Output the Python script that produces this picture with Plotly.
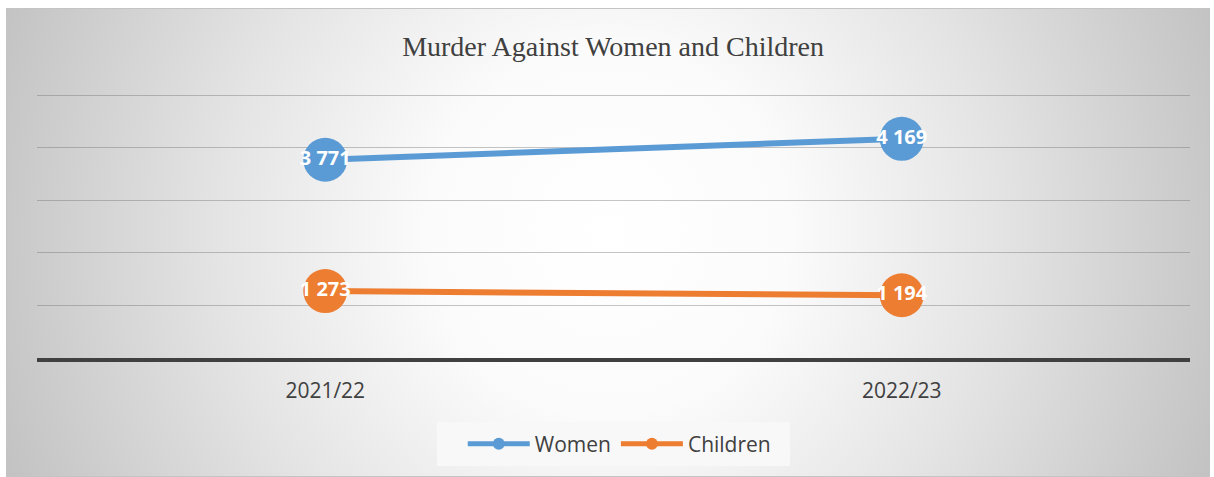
import base64
import plotly.graph_objects as go

# Data
periods = ["2021/22", "2022/23"]
women = [3771, 4169]
children = [1273, 1194]

W, H = 1214, 477
L, R, T, B = 37, 24, 93, 119
PW, PH = W - L - R, H - T - B
Y_MAX = 5040


def fmt(v):
    return f"{v:,}".replace(",", " ")


# Chart-area background: radial grey gradient with a thin border
box_x0, box_y0, box_x1, box_y1 = 6, 8, 1210, 477
bw, bh = box_x1 - box_x0, box_y1 - box_y0
svg = f"""<svg xmlns='http://www.w3.org/2000/svg' width='{bw}' height='{bh}' viewBox='0 0 {bw} {bh}' preserveAspectRatio='none'>
<defs><radialGradient id='g' gradientUnits='userSpaceOnUse' cx='{bw/2}' cy='{bh/2 - 10}' r='650'>
<stop offset='0' stop-color='#ffffff'/>
<stop offset='0.28' stop-color='#fbfbfb'/>
<stop offset='0.6' stop-color='#e4e4e4'/>
<stop offset='1' stop-color='#c2c2c2'/>
</radialGradient></defs>
<rect x='0.5' y='0.5' width='{bw-1}' height='{bh-1}' fill='url(#g)' stroke='#c4c4c4' stroke-width='1'/>
</svg>"""
svg_uri = "data:image/svg+xml;base64," + base64.b64encode(svg.encode()).decode()


def px_to_paper_x(px):
    return (px - L) / PW


def py_to_paper_y(py):
    return (H - B - py) / PH


fig = go.Figure()

series = [("Women", women, "#5b9bd5"), ("Children", children, "#ed7d31")]
for name, vals, col in series:
    fig.add_trace(go.Scatter(
        x=periods, y=vals, mode="lines+markers+text",
        line=dict(color=col, width=6),
        marker=dict(color=col, size=44),
        text=[fmt(v) for v in vals], textposition="middle center",
        textfont=dict(family="Open Sans", size=20, color="white", weight="bold"),
        showlegend=False, cliponaxis=False, hoverinfo="skip",
    ))
    # legend entry with compact marker
    fig.add_trace(go.Scatter(
        x=[None], y=[None], mode="lines+markers", name=name,
        line=dict(color=col, width=5), marker=dict(color=col, size=12),
    ))

fig.update_layout(
    width=W, height=H,
    margin=dict(l=L, r=R, t=T, b=B),
    paper_bgcolor="white", plot_bgcolor="rgba(0,0,0,0)",
    title=dict(text="Murder Against Women and Children", x=0.505, xanchor="center",
               y=1 - 46 / H, yanchor="middle",
               font=dict(family="Liberation Serif", size=28, color="#404040")),
    xaxis=dict(type="category", range=[-0.5, 1.5], showgrid=False, zeroline=False,
               showline=True, linecolor="#404040", linewidth=4,
               ticks="outside", ticklen=11, tickcolor="rgba(0,0,0,0)",
               tickfont=dict(family="Open Sans", size=21, color="#404040")),
    yaxis=dict(range=[0, Y_MAX], dtick=1000, tick0=0, showgrid=True,
               gridcolor="rgba(110,110,110,0.4)", gridwidth=1,
               zeroline=False, showticklabels=False, showline=False),
    legend=dict(orientation="h", x=0.505, xanchor="center",
                y=py_to_paper_y(444), yanchor="middle",
                bgcolor="rgba(0,0,0,0)", itemwidth=62,
                font=dict(family="Open Sans", size=21, color="#404040"),
                tracegroupgap=0),
    shapes=[dict(type="rect", xref="paper", yref="paper",
                 x0=px_to_paper_x(437), x1=px_to_paper_x(790),
                 y0=py_to_paper_y(466), y1=py_to_paper_y(422),
                 fillcolor="#f8f8f8", line=dict(width=0), layer="above")],
    images=[dict(source=svg_uri, xref="paper", yref="paper",
                 x=px_to_paper_x(box_x0), y=py_to_paper_y(box_y0),
                 sizex=(box_x1 - box_x0) / PW, sizey=(box_y1 - box_y0) / PH,
                 xanchor="left", yanchor="top", sizing="stretch", layer="below")],
)

fig.write_html("out.html")
